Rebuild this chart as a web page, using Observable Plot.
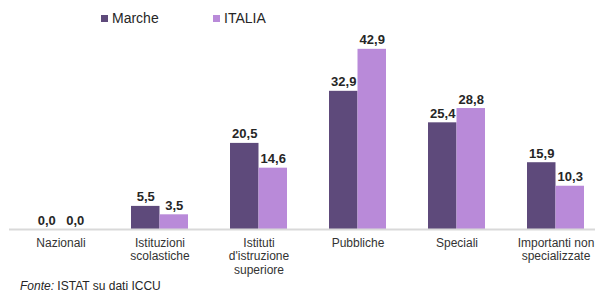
<!DOCTYPE html>
<html>
<head>
<meta charset="utf-8">
<script src="https://cdn.jsdelivr.net/npm/d3@7"></script>
<script src="https://cdn.jsdelivr.net/npm/@observablehq/plot@0.6"></script>
<style>
  html, body { margin: 0; padding: 0; background: #fff; }
  #wrap { position: relative; width: 595px; height: 293px; overflow: hidden; font-family: "Liberation Sans", Arial, sans-serif; }
  #legend { height: 30px; position: relative; font-size: 14px; color: #262626; }
  .item { position: absolute; top: 10px; display: flex; align-items: center; }
  .sw { width: 7px; height: 7px; margin-right: 4px; }
  #chart svg { display: block; max-width: none !important; }
  #caption { position: absolute; left: 20px; top: 279px; font-size: 12px; line-height: 14px; color: #262626; white-space: nowrap; }
</style>
</head>
<body>
<div id="wrap">
  <div id="legend"></div>
  <div id="chart"></div>
  <div id="caption"><i>Fonte:</i> ISTAT su dati ICCU</div>
</div>
<script>
const categories = ["Nazionali", "Istituzioni scolastiche", "Istituti d'istruzione superiore", "Pubbliche", "Speciali", "Importanti non specializzate"];
const tickLabels = ["Nazionali", "Istituzioni\nscolastiche", "Istituti\nd'istruzione\nsuperiore", "Pubbliche", "Speciali", "Importanti non\nspecializzate"];
const series = ["Marche", "ITALIA"];
const marche = [0.0, 5.5, 20.5, 32.9, 25.4, 15.9];
const italia = [0.0, 3.5, 14.6, 42.9, 28.8, 10.3];
const colors = ["#5e4a7b", "#b98ad9"];

const data = [];
categories.forEach((c, i) => {
  data.push({cat: c, series: "Marche", value: marche[i]});
  data.push({cat: c, series: "ITALIA", value: italia[i]});
});

const fmt = v => v.toFixed(1).replace(".", ",");
const labelMap = new Map(categories.map((c, i) => [c, tickLabels[i]]));

// legend
const legend = document.getElementById("legend");
const legendX = [101, 213];
series.forEach((s, i) => {
  const it = document.createElement("div");
  it.className = "item";
  it.style.left = legendX[i] + "px";
  it.innerHTML = `<span class="sw" style="background:${colors[i]}"></span><span>${s}</span>`;
  legend.appendChild(it);
});

const W = 606;
const padInner = 0.427;
const padOuter = padInner / 2;
const bandwidth = (W - 9) / (categories.length - padInner + 2 * padOuter) * (1 - padInner);
const half = bandwidth / 2;

const chart = Plot.plot({
  width: W,
  height: 250,
  marginLeft: 9,
  marginRight: 0,
  marginTop: 10,
  marginBottom: 51,
  style: {fontFamily: "'Liberation Sans', Arial, sans-serif", background: "#fff", maxWidth: "none"},
  x: {domain: categories, paddingInner: padInner, paddingOuter: padOuter, axis: null},
  y: {domain: [0, 45], axis: null},
  marks: [
    Plot.barY(data.filter(d => d.series === "Marche"), {x: "cat", y: "value", fill: colors[0], insetRight: half}),
    Plot.barY(data.filter(d => d.series === "ITALIA"), {x: "cat", y: "value", fill: colors[1], insetLeft: half}),
    Plot.ruleY(data.filter(d => d.series === "ITALIA" && d.value === 0), {x: "cat", y: "value", stroke: "#c9a8e6", strokeWidth: 1, insetLeft: half, dy: -2}),
    Plot.ruleY([0], {stroke: "#d9d9d9", strokeWidth: 2}),
    Plot.text(data.filter(d => d.series === "Marche"), {x: "cat", y: "value", text: d => fmt(d.value), dx: -half / 2, dy: -5, lineAnchor: "bottom", fontSize: 13, fontWeight: "bold", fill: "#262626"}),
    Plot.text(data.filter(d => d.series === "ITALIA"), {x: "cat", y: "value", text: d => fmt(d.value), dx: half / 2, dy: -5, lineAnchor: "bottom", fontSize: 13, fontWeight: "bold", fill: "#262626"}),
    Plot.axisX({tickSize: 0, tickPadding: 8, fontSize: 12, lineHeight: 1.12, tickFormat: c => labelMap.get(c), color: "#333", label: null})
  ]
});
document.getElementById("chart").appendChild(chart);
</script>
</body>
</html>
